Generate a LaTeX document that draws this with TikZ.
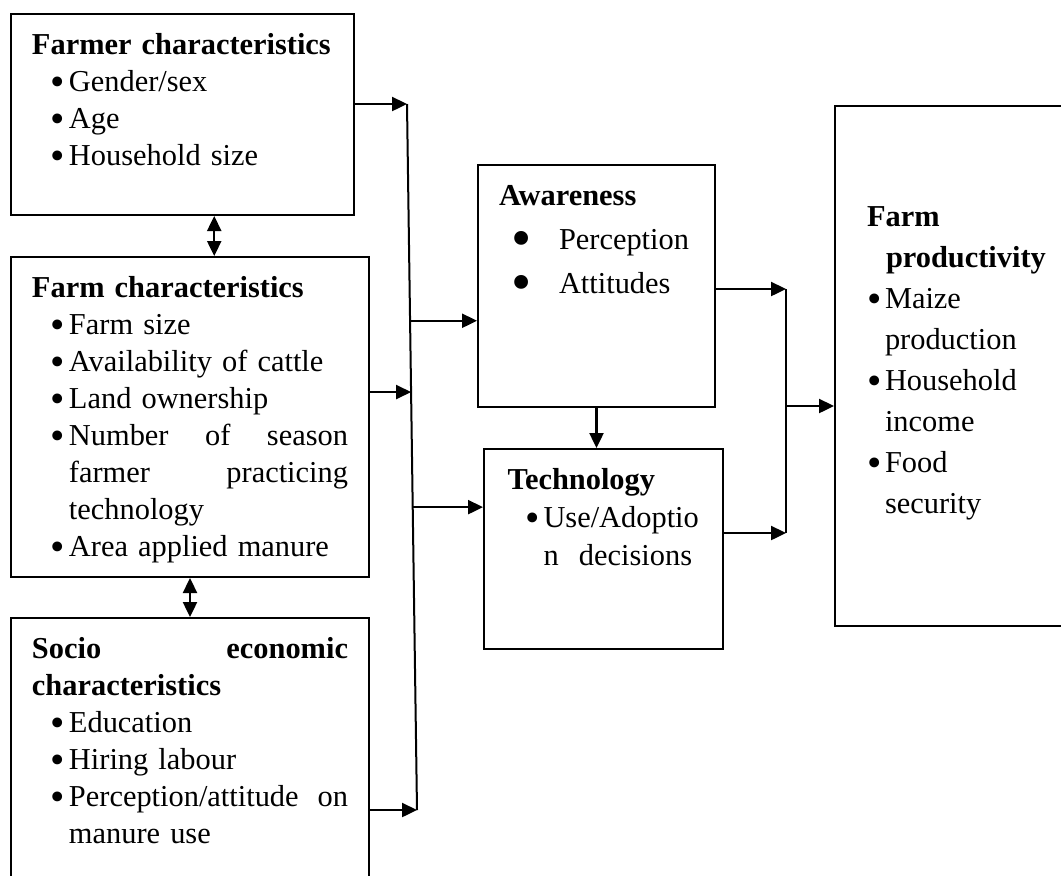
\documentclass[tikz,border=0pt]{standalone}
\usepackage{fontspec}
\setmainfont{Liberation Serif}
\usetikzlibrary{arrows.meta,calc}
\newlength\bulw
\setlength\bulw{9pt}
\newcommand\bulsign{\raisebox{-2pt}{\scalebox{1.35}{\textbullet}}}
\newcommand\bul[2][9.5pt]{\par\noindent\hangindent=\dimexpr#1+\bulw\relax\hangafter=1\hspace*{#1}\makebox[\bulw][l]{\bulsign}#2}
\tikzset{
	box/.style={draw, line width=1pt, anchor=north west, inner xsep=10.5pt, inner ysep=10pt, text height=10pt, font=\fontsize{15.2}{18.5}\selectfont},
	arr/.style={-{Triangle[length=7.5pt,width=7pt]}, line width=1.2pt},
	darr/.style={{Triangle[length=7.5pt,width=7pt]}-{Triangle[length=7.5pt,width=7pt]}, line width=1.2pt}
}

\begin{document}
\begin{tikzpicture}[x=0.5pt,y=-0.5pt]
			%%%%% START %%%%%
			\useasboundingbox (0,0) rectangle (1061,875);
			\clip (0,0) rectangle (1061,875);
			
			\node[box, text width=150.5pt, text depth=70.5pt] (farmer) at (10,13) {\textbf{Farmer characteristics}\bul{Gender/sex}\bul{Age}\bul{Household size}\par};
			\node[box, text width=158pt, text depth=130pt] (farm) at (10,256) {\textbf{Farm characteristics}\bul{Farm size}\bul{Availability of cattle}\bul{Land ownership}\bul{Number\hfill of\hfill season\newline farmer\hfill practicing\newline technology}\bul{Area applied manure}\par};
			\node[box, text width=158pt, text depth=106.5pt] (socio) at (10,617) {\noindent\textbf{Socio\hfill economic\newline characteristics}\bul{Education}\bul{Hiring labour}\bul{Perception/attitude\hfill on\newline manure use}\par};
			
			\node[box, text width=97.5pt, text depth=91pt, font=\fontsize{15.2}{22}\selectfont] (aware) at (477,164) {\setlength\bulw{24pt}\renewcommand\bulsign{\raisebox{-4.4pt}{\scalebox{1.9}{\textbullet}}}\textbf{Awareness}\bul[6pt]{Perception}\bul[6pt]{Attitudes}\par};
			\node[box, inner xsep=11.75pt, text width=96pt, text depth=70pt, font=\fontsize{15.2}{19}\selectfont] (tech) at (483,448) {\textbf{Technology}\bul[9pt]{Use/Adoptio\newline n\ \ decisions}\par};
			
			\node[box, inner xsep=16pt, text width=100pt, text height=50pt, text depth=190pt, font=\fontsize{15.2}{20.5}\selectfont] (prod) at (834,105) {\noindent\hangindent=9.5pt\hangafter=1\textbf{Farm\newline productivity}\bul[0pt]{Maize\newline production}\bul[0pt]{Household\newline income}\bul[0pt]{Food\newline security}\par};
			
			\coordinate (busTop) at (407,104);
			\coordinate (busBot) at (417,810);
			\coordinate (busFarm) at ($(busTop)!0.408!(busBot)$);
			\coordinate (busAw) at ($(busTop)!0.307!(busBot)$);
			\coordinate (busTech) at ($(busTop)!0.571!(busBot)$);
			\draw[line width=1pt] (busTop) -- (busBot);
			
			\draw[arr] (farmer.east |- busTop) -- (busTop);
			\draw[arr] (farm.east |- busFarm) -- (busFarm);
			\draw[arr] (socio.east |- busBot) -- (busBot);
			\draw[arr] (busAw) -- (busAw -| aware.west);
			\draw[arr] (busTech) -- (busTech -| tech.west);
			
			\coordinate (dblA) at ($(farmer.south west)!0.592!(farmer.south east)$);
			\draw[darr] (dblA) -- (dblA |- farm.north);
			\draw[darr] (farm.south) -- (farm.south |- socio.north);
			
			\draw[arr] (aware.south) -- (aware.south |- tech.north);
			
			\coordinate (colTop) at (786,289);
			\coordinate (colBot) at (786,533);
			\coordinate (colMid) at (786,406);
			\draw[line width=1pt] (colTop) -- (colBot);
			\draw[arr] (aware.east |- colTop) -- (colTop);
			\draw[arr] (tech.east |- colBot) -- (colBot);
			\draw[arr] (colMid) -- (colMid -| prod.west);
			
			%%%%% END %%%%%
\end{tikzpicture}
\end{document}
